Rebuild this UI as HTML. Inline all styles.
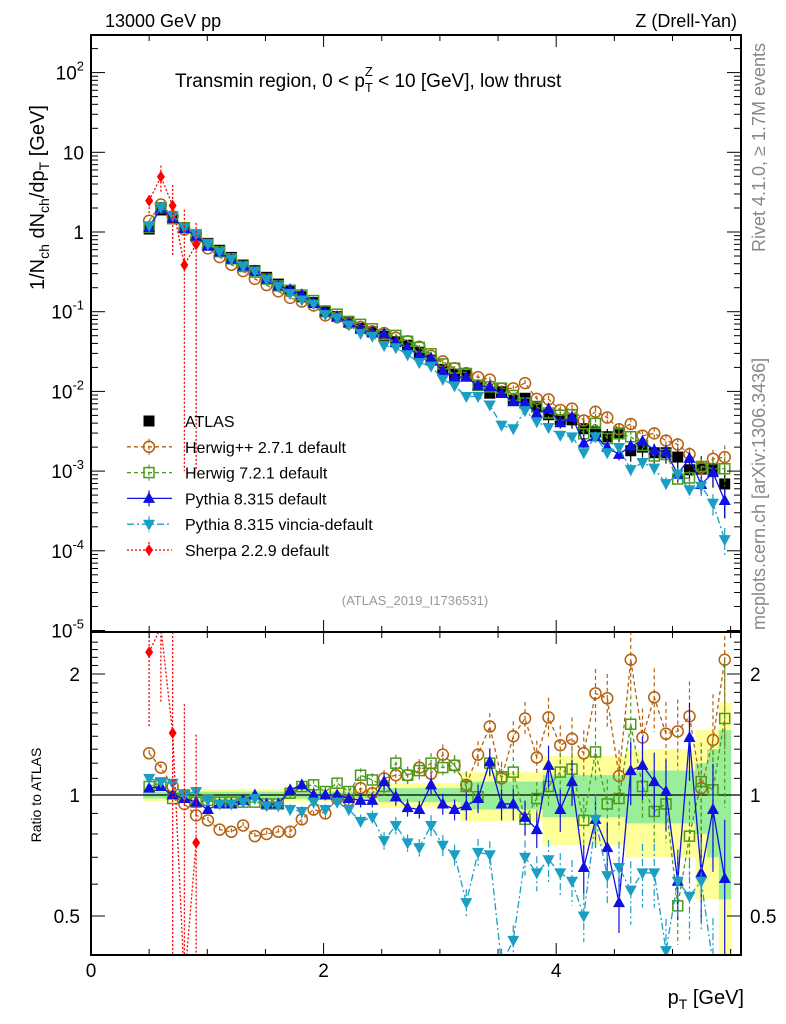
<!DOCTYPE html>
<html><head><meta charset="utf-8"><style>
html,body{margin:0;padding:0;background:#fff;width:786px;height:1024px;overflow:hidden;}
svg{display:block;font-family:"Liberation Sans",sans-serif;}
</style></head><body>
<svg id="chart" width="786" height="1024" viewBox="0 0 786 1024" xmlns="http://www.w3.org/2000/svg">
<defs>
<clipPath id="clipMain"><rect x="91" y="35" width="650" height="597"/></clipPath>
<clipPath id="clipRatio"><rect x="91" y="632" width="650" height="323"/></clipPath>
</defs>
<g id="bands" clip-path="url(#clipRatio)"></g>
<g id="ratioMarks" clip-path="url(#clipRatio)"></g>
<g id="mainMarks" clip-path="url(#clipMain)"></g>
<g id="axes"></g>
<text x="105" y="27" font-size="18">13000 GeV pp</text>
<text x="737" y="27" font-size="18" text-anchor="end">Z (Drell-Yan)</text>
<text x="175" y="87" font-size="19">Transmin region, 0 &lt; p<tspan font-size="13" dy="5">T</tspan><tspan font-size="13" dx="-8" dy="-16">Z</tspan><tspan dy="11"> &lt; 10 [GeV], low thrust</tspan></text>
<text transform="translate(44,290) rotate(-90)" font-size="20">1/N<tspan font-size="14" dy="5">ch</tspan><tspan dy="-5"> dN</tspan><tspan font-size="14" dy="5">ch</tspan><tspan dy="-5">/dp</tspan><tspan font-size="14" dy="5">T</tspan><tspan dy="-5"> [GeV]</tspan></text>
<text transform="translate(765,252) rotate(-90)" font-size="18" fill="#888">Rivet 4.1.0, ≥ 1.7M events</text>
<text transform="translate(765,630) rotate(-90)" font-size="18" fill="#888">mcplots.cern.ch [arXiv:1306.3436]</text>
<text x="415" y="605" font-size="13" fill="#999" text-anchor="middle">(ATLAS_2019_I1736531)</text>
<text transform="translate(41,795) rotate(-90)" font-size="14" text-anchor="middle">Ratio to ATLAS</text>
<text x="744" y="1004" font-size="20" text-anchor="end">p<tspan font-size="14" dy="5">T</tspan><tspan dy="-5"> [GeV]</tspan></text>
<g id="legend"></g>
</svg>
<script>
const NS="http://www.w3.org/2000/svg";
const atlas=[1.09,1.89,1.50,1.13,0.92,0.72,0.59,0.48,0.385,0.327,0.27,0.222,0.184,0.154,0.13,0.10,0.087,0.074,0.062,0.056,0.049,0.042,0.038,0.031,0.0247,0.0189,0.0165,0.016,0.012,0.0095,0.0099,0.0078,0.0082,0.0065,0.0051,0.0044,0.0044,0.0034,0.0031,0.0027,0.0030,0.0018,0.0020,0.0017,0.0017,0.0015,0.00104,0.00106,0.00104,0.00069];
const rHerwigPP=[1.27,1.17,1.05,0.95,0.89,0.865,0.82,0.81,0.84,0.79,0.80,0.81,0.81,0.87,0.92,0.90,0.98,0.97,1.04,1.01,1.10,1.12,1.12,1.17,1.13,1.26,1.185,1.06,1.26,1.48,1.10,1.40,1.55,1.24,1.56,1.33,1.38,1.27,1.79,1.74,1.115,2.17,1.39,1.75,1.42,1.44,1.57,1.04,1.37,2.17];
const rHerwig7=[1.05,1.07,0.98,1.0,0.96,0.97,0.96,0.96,0.96,0.96,0.95,0.95,1.01,1.05,1.06,1.02,1.07,1.02,1.12,1.09,1.05,1.20,1.12,1.15,1.20,1.17,1.185,1.05,0.99,1.20,1.11,1.14,0.87,0.98,1.05,1.14,1.16,0.865,1.28,0.95,0.98,1.50,1.05,0.91,0.95,0.53,0.79,1.08,1.03,1.55];
const rPythia=[1.04,1.05,1.0,0.98,0.96,0.92,0.95,0.95,0.97,1.0,0.95,0.95,1.03,1.06,1.0,1.0,1.0,0.98,0.97,0.97,1.08,0.99,0.93,0.92,1.06,0.95,0.92,0.94,0.98,1.21,0.95,0.95,0.88,0.82,1.185,0.92,1.08,0.66,0.87,0.74,0.54,1.15,1.185,1.08,1.02,0.61,1.39,0.64,0.92,0.62];
const rVincia=[1.10,1.08,1.07,1.0,1.02,0.97,0.95,0.95,0.96,0.98,0.94,0.94,0.92,0.91,0.96,0.92,0.96,0.92,0.86,0.88,0.77,0.84,0.76,0.74,0.84,0.75,0.71,0.54,0.72,0.71,0.38,0.435,0.70,0.64,0.69,0.64,0.61,0.50,0.87,0.63,0.66,0.58,0.64,0.64,0.41,0.61,0.56,0.61,0.38,0.20];
const sherpa=[2.47,4.94,2.14,0.385,0.70];
const sherpaLo=[1.6,3.2,0.5,0.001,0.001];
const sherpaHi=[2.9,6.8,3.9,1.9,1.3];
const errGreen=[0.02,0.02,0.02,0.02,0.02,0.02,0.02,0.02,0.02,0.02,0.02,0.02,0.02,0.02,0.02,0.02,0.02,0.02,0.02,0.02,0.04,0.04,0.04,0.04,0.04,0.04,0.04,0.08,0.08,0.08,0.08,0.08,0.08,0.08,0.12,0.12,0.12,0.12,0.12,0.12,0.12,0.15,0.15,0.15,0.15,0.15,0.15,0.2,0.3,0.45];
const errYellow=[0.035,0.035,0.035,0.035,0.035,0.035,0.035,0.035,0.035,0.035,0.035,0.035,0.035,0.035,0.035,0.035,0.035,0.035,0.035,0.035,0.07,0.07,0.07,0.07,0.07,0.07,0.07,0.14,0.14,0.14,0.14,0.14,0.14,0.14,0.25,0.25,0.25,0.25,0.25,0.25,0.25,0.3,0.3,0.3,0.3,0.3,0.3,0.45,0.45,0.7];
const mcErr=[0.02,0.02,0.02,0.02,0.02,0.02,0.02,0.02,0.02,0.02,0.02,0.02,0.03,0.03,0.03,0.03,0.03,0.03,0.04,0.04,0.05,0.05,0.05,0.05,0.06,0.06,0.06,0.08,0.08,0.08,0.09,0.09,0.1,0.1,0.12,0.12,0.13,0.14,0.15,0.15,0.16,0.18,0.18,0.18,0.2,0.2,0.22,0.25,0.3,0.4];
const xStart=0.5, xStep=0.101, binW=0.101;
const xTicks=[0,2,4];
const yMainTicks=[100,10,1,0.1,0.01,0.001,0.0001,0.00001];
const yMainLabels=["10^2","10","1","10^-1","10^-2","10^-3","10^-4","10^-5"];
const yRatioTicks=[0.5,1,2];
const yRatioLabels=["0.5","1","2"];

const X=v=>91+v*116.3;
const YM=v=>232-79.7*Math.log10(Math.max(v,1e-9));
const YR=r=>795-402*Math.log10(Math.max(r,1e-3));
const xc=i=>xStart+i*xStep;
function mk(tag,attrs,parent){const e=document.createElementNS(NS,tag);for(const k in attrs)e.setAttribute(k,attrs[k]);parent.appendChild(e);return e;}

const bands=document.getElementById('bands');
[[errYellow,'#ffff99'],[errGreen,'#99ee99']].forEach(([err,col],k)=>{
  err.forEach((e,i)=>{
    const r=mk('rect',{x:X(xc(i)-binW/2),width:X(binW)-91+0.5,y:YR(1+e),height:YR(Math.max(1-e,0.01))-YR(1+e),fill:col},bands);
    
    
  });
});

function marker(parent,type,cx,cy,color){
  let m;
  if(type==='sq')m=mk('rect',{x:cx-5.5,y:cy-5.5,width:11,height:11,fill:'#000'},parent);
  else if(type==='osq')m=mk('rect',{x:cx-5,y:cy-5,width:10,height:10,fill:'none',stroke:color,'stroke-width':1.5},parent);
  else if(type==='circ')m=mk('circle',{cx:cx,cy:cy,r:5.5,fill:'none',stroke:color,'stroke-width':1.5},parent);
  else if(type==='up')m=mk('polygon',{points:`${cx},${cy-6.5} ${cx-6},${cy+4.5} ${cx+6},${cy+4.5}`,fill:color},parent);
  else if(type==='down')m=mk('polygon',{points:`${cx},${cy+6.5} ${cx-6},${cy-4.5} ${cx+6},${cy-4.5}`,fill:color},parent);
  else m=mk('polygon',{points:`${cx},${cy-6} ${cx-4},${cy} ${cx},${cy+6} ${cx+4},${cy}`,fill:color},parent);
  return m;
}

const mainG=document.getElementById('mainMarks');
const ratG=document.getElementById('ratioMarks');
mk('line',{x1:91,x2:741,y1:YR(1),y2:YR(1),stroke:'#000','stroke-width':1.3},ratG);

// ATLAS data (drawn first, beneath MC)
atlas.forEach((v,i)=>{
  const x=X(xc(i));
  mk('line',{x1:x,x2:x,y1:YM(v*(1+errYellow[i])),y2:YM(v*(1-errYellow[i]*0.9)),stroke:'#000','stroke-width':1.2},mainG);
  const m=marker(mainG,'sq',x,YM(v),'#000');
  
  
});

const series=[
 {name:'herwigpp',ratio:rHerwigPP,color:'#b5600f',type:'circ',dash:'4,3',label:'Herwig++ 2.7.1 default'},
 {name:'herwig7',ratio:rHerwig7,color:'#4c9a1c',type:'osq',dash:'4,3',label:'Herwig 7.2.1 default'},
 {name:'pythia',ratio:rPythia,color:'#1010e0',type:'up',dash:'',label:'Pythia 8.315 default'},
 {name:'vincia',ratio:rVincia,color:'#1a9ec4',type:'down',dash:'7,3,2,3',label:'Pythia 8.315 vincia-default'}
];

series.forEach(s=>{
  [[mainG,i=>YM(atlas[i]*s.ratio[i]),(i,f)=>YM(atlas[i]*s.ratio[i]*f)],[ratG,i=>YR(s.ratio[i]),(i,f)=>YR(s.ratio[i]*f)]].forEach(([g,yf,ye])=>{
    const pts=s.ratio.map((r,i)=>`${X(xc(i))},${yf(i)}`).join(' ');
    const pl=mk('polyline',{points:pts,fill:'none',stroke:s.color,'stroke-width':1.3,'stroke-dasharray':s.dash},g);
    
    
    s.ratio.forEach((r,i)=>{
      const x=X(xc(i));
      mk('line',{x1:x,x2:x,y1:ye(i,1+mcErr[i]),y2:ye(i,Math.max(1-mcErr[i],0.05)),stroke:s.color,'stroke-width':1.2,'stroke-dasharray':s.dash},g);
      const m=marker(g,s.type,x,yf(i),s.color);
      
      
    });
  });
});

// Sherpa
const spts=sherpa.map((v,i)=>`${X(xc(i))},${YM(v)}`).join(' ');
const sl=mk('polyline',{points:spts,fill:'none',stroke:'#f00','stroke-width':1.3,'stroke-dasharray':'2,2'},mainG);


const srpts=sherpa.map((v,i)=>`${X(xc(i))},${YR(v/atlas[i])}`).join(' ');
const srl=mk('polyline',{points:srpts,fill:'none',stroke:'#f00','stroke-width':1.3,'stroke-dasharray':'2,2'},ratG);


sherpa.forEach((v,i)=>{
  const x=X(xc(i));
  mk('line',{x1:x,x2:x,y1:YM(sherpaHi[i]),y2:YM(sherpaLo[i]),stroke:'#f00','stroke-width':1.3,'stroke-dasharray':'2,2'},mainG);
  mk('line',{x1:x,x2:x,y1:YR(sherpaHi[i]/atlas[i]),y2:YR(sherpaLo[i]/atlas[i]),stroke:'#f00','stroke-width':1.3,'stroke-dasharray':'2,2'},ratG);
  const m=marker(mainG,'dia',x,YM(v),'#f00');
  
  
  const m2=marker(ratG,'dia',x,YR(v/atlas[i]),'#f00');
  
  
});

// Axes
const ax=document.getElementById('axes');
const fr1=mk('rect',{x:91,y:35,width:650,height:597,fill:'none',stroke:'#000','stroke-width':2},ax);


const fr2=mk('rect',{x:91,y:632,width:650,height:323,fill:'none',stroke:'#000','stroke-width':2},ax);


for(let v=0;v<=5.6;v+=0.5){
  const major=Math.abs(v%2)<1e-6;
  const len=major?12:6;
  [[632,-1],[955,-1],[35,1],[632,1]].forEach(([y,d])=>mk('line',{x1:X(v),x2:X(v),y1:y,y2:y+d*len,stroke:'#000','stroke-width':1},ax));
}
xTicks.forEach(v=>{
  const t=mk('text',{x:X(v),y:977,'font-size':19,'text-anchor':'middle'},ax);
  t.textContent=v;
  
  
});
for(let e=-5;e<=2;e++){
  for(let m=1;m<10;m++){
    const v=m*Math.pow(10,e);const y=YM(v);
    if(y<35||y>632)continue;
    const len=m===1?14:7;
    mk('line',{x1:91,x2:91+len,y1:y,y2:y,stroke:'#000','stroke-width':1},ax);
    mk('line',{x1:741,x2:741-len,y1:y,y2:y,stroke:'#000','stroke-width':1},ax);
  }
}
yMainTicks.forEach((v,k)=>{
  const lab=yMainLabels[k];const y=YM(v)+7;
  const t=mk('text',{x:84,y:Math.min(y,639),'font-size':19,'text-anchor':'end'},ax);
  if(lab.includes('^')){const [b,p]=lab.split('^');t.textContent=b;const ts=mk('tspan',{'font-size':13,dy:-9},t);ts.textContent=p;}
  else t.textContent=lab;
  
  
});
for(let v=0.4;v<=2.5;v+=0.1){
  const y=YR(v);if(y<632||y>955)continue;
  const major=[0.5,1,2].some(t=>Math.abs(t-v)<1e-6);
  const len=major?14:7;
  mk('line',{x1:91,x2:91+len,y1:y,y2:y,stroke:'#000','stroke-width':1},ax);
  mk('line',{x1:741,x2:741-len,y1:y,y2:y,stroke:'#000','stroke-width':1},ax);
}
yRatioTicks.forEach((v,k)=>{
  [[80,'end'],[750,'start']].forEach(([x,a])=>{
    const t=mk('text',{x:x,y:YR(v)+7,'font-size':19,'text-anchor':a},ax);
    t.textContent=yRatioLabels[k];
    
    
  });
});

// Legend
const lg=document.getElementById('legend');
const legItems=[{label:'ATLAS',type:'sq',color:'#000',dash:null},...series.map(s=>({label:s.label,type:s.type,color:s.color,dash:s.dash})),{label:'Sherpa 2.2.9 default',type:'dia',color:'#f00',dash:'2,2'}];
legItems.forEach((it,k)=>{
  const y=421+k*25.8;
  const g=mk('g',{},lg);
  
  
  if(it.dash!==null){
    mk('line',{x1:127,x2:172,y1:y,y2:y,stroke:it.color,'stroke-width':1.3,'stroke-dasharray':it.dash},g);
    mk('line',{x1:149,x2:149,y1:y-8,y2:y+8,stroke:it.color,'stroke-width':1.2,'stroke-dasharray':it.dash},g);
  }
  marker(g,it.type,149,y,it.color);
  const t=mk('text',{x:185,y:y+6,'font-size':16},g);
  t.textContent=it.label;
});
</script>
</body></html>
